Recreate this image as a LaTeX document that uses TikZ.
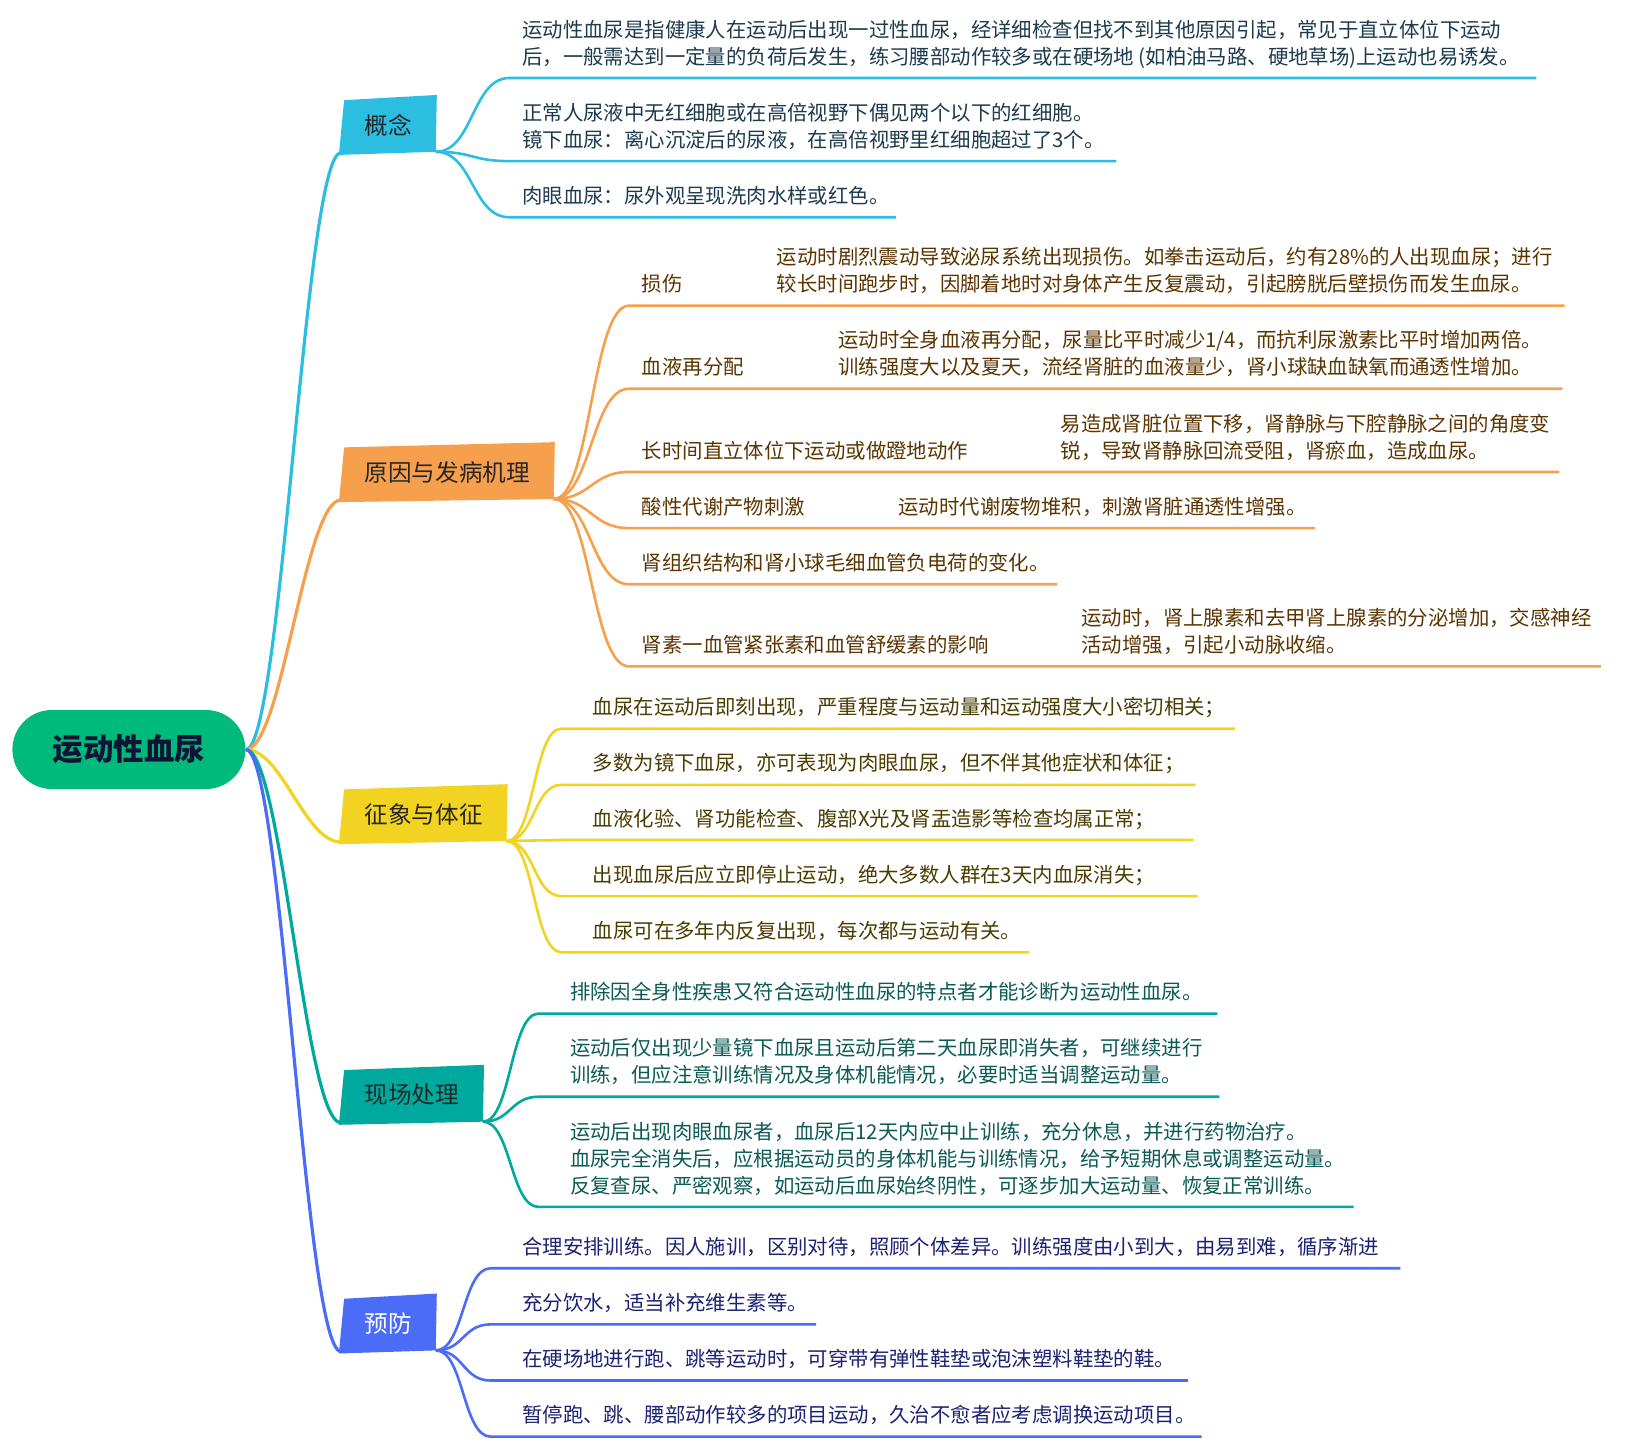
\documentclass[tikz,border=0pt]{standalone}
\usepackage{fontspec}
\setmainfont{Noto Sans CJK SC}
\usetikzlibrary{calc,backgrounds}
\definecolor{rootgreen}{HTML}{00BA7C}
\definecolor{rootink}{HTML}{101236}
\definecolor{gncol}{HTML}{2CBEE1}
\definecolor{gnink}{HTML}{1D3A4F}
\definecolor{yycol}{HTML}{F6A04D}
\definecolor{yyink}{HTML}{5B3400}
\definecolor{zxcol}{HTML}{F2D321}
\definecolor{zxink}{HTML}{4A3C00}
\definecolor{xccol}{HTML}{00A99D}
\definecolor{xcink}{HTML}{0B5A54}
\definecolor{yfcol}{HTML}{4A6CF7}
\definecolor{yfink}{HTML}{1C2173}
\tikzset{line cap=round,
  rootbox/.style={fill=rootgreen,rounded corners=19.7pt,minimum width=116.5pt,minimum height=39.5pt,
    font=\fontsize{15.2}{18}\selectfont\bfseries,text=rootink},
  topic/.style={anchor=south west,inner xsep=11.7pt,inner ysep=0pt,minimum height=27.5pt,
    font=\fontsize{11.8}{14}\selectfont,text=black!85},
  leaf/.style={anchor=south west,inner sep=0pt,text depth=0pt,align=left,
    font=\fontsize{10.2}{13.5}\selectfont},
  trunk/.style={line width=1.6pt},
  twig/.style={line width=1.3pt}}
% skewed fill behind a topic node
\newcommand\topicbg[2]{\begin{scope}[on background layer]
  \fill[#2]($(#1.north west)+(3,3)$)--($(#1.north east)+(1,-2)$)--($(#1.south east)+(0,-1)$)--($(#1.south west)+(-2,2)$)--cycle;
  \end{scope}}
\begin{document}
\begin{tikzpicture}[x=0.5198pt,y=-0.5198pt]
\useasboundingbox(0,0)rectangle(1568,1396);
\node[rootbox](root)at(124,721){运动性血尿};
% topics
\node[topic](gn)at(328,147){概念};\topicbg{gn}{gncol}
\node[topic](yy)at(328,481){原因与发病机理};\topicbg{yy}{yycol}
\node[topic](zx)at(328,810){征象与体征};\topicbg{zx}{zxcol}
\node[topic](xc)at(328,1080){现场处理};\topicbg{xc}{xccol}
\node[topic,text=white](yf)at(328,1300){预防};\topicbg{yf}{yfcol}
\draw[trunk,gncol](root.east)..controls +(35,0) and +(-35,0)..(gn.south west);
\draw[trunk,yycol](root.east)..controls +(35,0) and +(-35,0)..(yy.south west);
\draw[trunk,zxcol](root.east)..controls +(35,0) and +(-35,0)..(zx.south west);
\draw[trunk,xccol](root.east)..controls +(35,0) and +(-35,0)..(xc.south west);
\draw[trunk,yfcol](root.east)..controls +(35,0) and +(-35,0)..(yf.south west);
% 概念
\foreach \n/\y/\xe/\t in {
  1/75/1478/{运动性血尿是指健康人在运动后出现一过性血尿，经详细检查但找不到其他原因引起，常见于直立体位下运动\\后，一般需达到一定量的负荷后发生，练习腰部动作较多或在硬场地 (如柏油马路、硬地草场)上运动也易诱发。},
  2/155/1074/{正常人尿液中无红细胞或在高倍视野下偶见两个以下的红细胞。\\镜下血尿：离心沉淀后的尿液，在高倍视野里红细胞超过了3个。},
  3/209/862/{肉眼血尿：尿外观呈现洗肉水样或红色。}}{
  \coordinate(gns\n)at(490,\y);\coordinate(gne\n)at(\xe,\y);
  \node[leaf,text=gnink](gn\n)at(502,\y-13){\t};
  \draw[twig,gncol]($(gn.south east)+(0,-1)$)..controls +(36,0) and +(-36,0)..(gns\n)--(gne\n);}
% 原因与发病机理
\foreach \n/\y/\xe/\lab/\dx/\det in {
  1/294/1505/{损伤}/747/{运动时剧烈震动导致泌尿系统出现损伤。如拳击运动后，约有28\%的人出现血尿；进行\\较长时间跑步时，因脚着地时对身体产生反复震动，引起膀胱后壁损伤而发生血尿。},
  2/374/1503/{血液再分配}/806/{运动时全身血液再分配，尿量比平时减少1/4，而抗利尿激素比平时增加两倍。\\训练强度大以及夏天，流经肾脏的血液量少，肾小球缺血缺氧而通透性增加。},
  3/454/1500/{长时间直立体位下运动或做蹬地动作}/1020/{易造成肾脏位置下移，肾静脉与下腔静脉之间的角度变\\锐，导致肾静脉回流受阻，肾瘀血，造成血尿。},
  4/508/1265/{酸性代谢产物刺激}/864/{运动时代谢废物堆积，刺激肾脏通透性增强。},
  6/641/1540/{肾素一血管紧张素和血管舒缓素的影响}/1040/{运动时，肾上腺素和去甲肾上腺素的分泌增加，交感神经\\活动增强，引起小动脉收缩。}}{
  \coordinate(yys\n)at(605,\y);\coordinate(yye\n)at(\xe,\y);
  \node[leaf,text=yyink](yy\n)at(617,\y-13){\lab};
  \node[leaf,text=yyink](yyd\n)at(\dx,\y-13){\det};
  \draw[twig,yycol]($(yy.south east)+(0,-1)$)..controls +(36,0) and +(-36,0)..(yys\n)--(yye\n);}
\coordinate(yys5)at(605,562);\coordinate(yye5)at(1017,562);
\node[leaf,text=yyink](yy5)at(617,549){肾组织结构和肾小球毛细血管负电荷的变化。};
\draw[twig,yycol]($(yy.south east)+(0,-1)$)..controls +(36,0) and +(-36,0)..(yys5)--(yye5);
% 征象与体征
\foreach \n/\y/\xe/\t in {
  1/701/1188/{血尿在运动后即刻出现，严重程度与运动量和运动强度大小密切相关；},
  2/755/1150/{多数为镜下血尿，亦可表现为肉眼血尿，但不伴其他症状和体征；},
  3/808/1148/{血液化验、肾功能检查、腹部X光及肾盂造影等检查均属正常；},
  4/862/1152/{出现血尿后应立即停止运动，绝大多数人群在3天内血尿消失；},
  5/916/990/{血尿可在多年内反复出现，每次都与运动有关。}}{
  \coordinate(zxs\n)at(540,\y);\coordinate(zxe\n)at(\xe,\y);
  \node[leaf,text=zxink](zx\n)at(570,\y-13){\t};
  \draw[twig,zxcol]($(zx.south east)+(0,-1)$)..controls +(27,0) and +(-27,0)..(zxs\n)--(zxe\n);}
% 现场处理
\foreach \n/\y/\xe/\t in {
  1/975/1171/{排除因全身性疾患又符合运动性血尿的特点者才能诊断为运动性血尿。},
  2/1055/1173/{运动后仅出现少量镜下血尿且运动后第二天血尿即消失者，可继续进行\\训练，但应注意训练情况及身体机能情况，必要时适当调整运动量。},
  3/1161/1302/{运动后出现肉眼血尿者，血尿后12天内应中止训练，充分休息，并进行药物治疗。\\血尿完全消失后，应根据运动员的身体机能与训练情况，给予短期休息或调整运动量。\\反复查尿、严密观察，如运动后血尿始终阴性，可逐步加大运动量、恢复正常训练。}}{
  \coordinate(xcs\n)at(518,\y);\coordinate(xce\n)at(\xe,\y);
  \node[leaf,text=xcink](xc\n)at(548,\y-13){\t};
  \draw[twig,xccol]($(xc.south east)+(0,-1)$)..controls +(27,0) and +(-27,0)..(xcs\n)--(xce\n);}
% 预防
\foreach \n/\y/\xe/\t in {
  1/1220/1347/{合理安排训练。因人施训，区别对待，照顾个体差异。训练强度由小到大，由易到难，循序渐进},
  2/1274/785/{充分饮水，适当补充维生素等。},
  3/1328/1143/{在硬场地进行跑、跳等运动时，可穿带有弹性鞋垫或泡沫塑料鞋垫的鞋。},
  4/1382/1156/{暂停跑、跳、腰部动作较多的项目运动，久治不愈者应考虑调换运动项目。}}{
  \coordinate(yfs\n)at(472,\y);\coordinate(yfe\n)at(\xe,\y);
  \node[leaf,text=yfink](yf\n)at(502,\y-13){\t};
  \draw[twig,yfcol]($(yf.south east)+(0,-1)$)..controls +(27,0) and +(-27,0)..(yfs\n)--(yfe\n);}
\end{tikzpicture}
\end{document}
